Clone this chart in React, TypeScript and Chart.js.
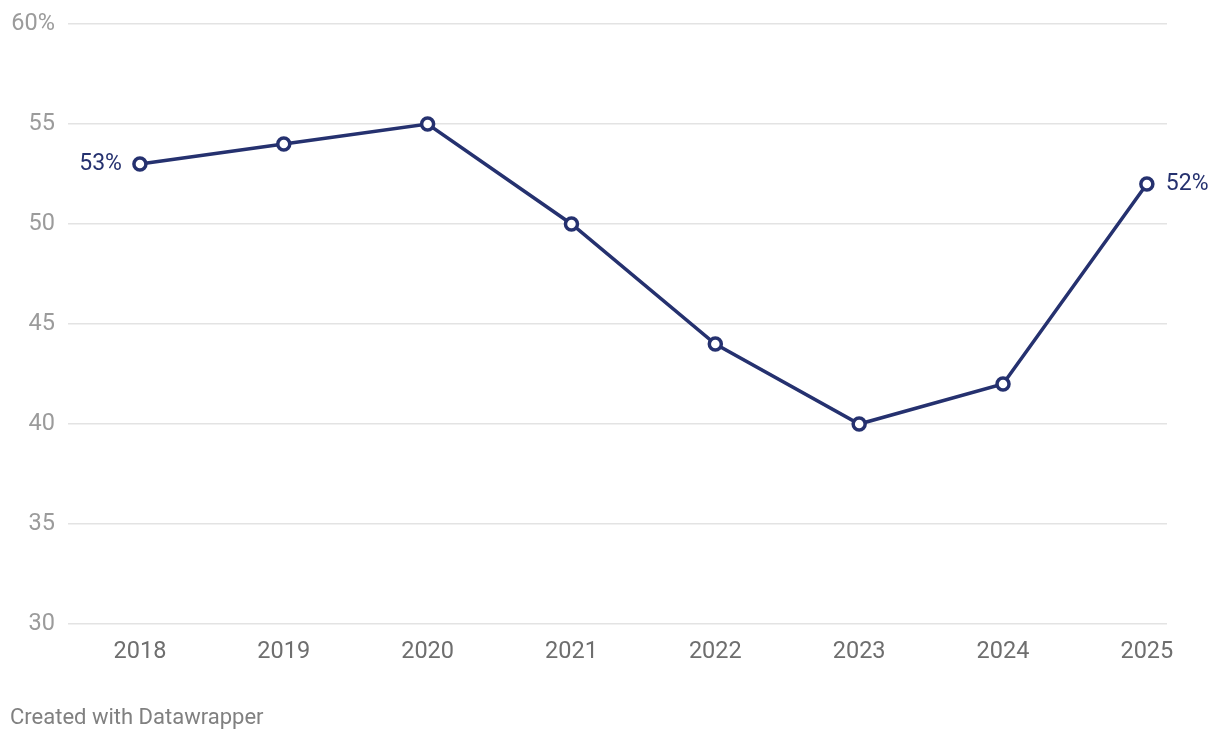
import React, { useEffect, useRef } from "react";
import { Chart, registerables } from "chart.js";

Chart.register(...registerables);

const years = [2018, 2019, 2020, 2021, 2022, 2023, 2024, 2025];
const values = [53, 54, 55, 50, 44, 40, 42, 52];
const yTicks = [30, 35, 40, 45, 50, 55, 60];
const footerText = "Created with Datawrapper";

const NAVY = "#25316f";
const FONT = "Roboto, 'Noto Sans', sans-serif";

const endLabels = {
  id: "endLabels",
  afterDatasetsDraw(chart: any) {
    const meta = chart.getDatasetMeta(0);
    const ctx = chart.ctx;
    ctx.save();
    ctx.font = `23px ${FONT}`;
    ctx.fillStyle = NAVY;
    ctx.textBaseline = "middle";
    const first = meta.data[0];
    const last = meta.data[meta.data.length - 1];
    ctx.textAlign = "right";
    ctx.fillText(values[0] + "%", first.x - 18, first.y);
    ctx.textAlign = "left";
    ctx.fillText(values[values.length - 1] + "%", last.x + 19, last.y);
    ctx.restore();
  },
};

export default function App() {
  const ref = useRef<HTMLCanvasElement>(null);
  useEffect(() => {
    if (!ref.current) return;
    const chart = new Chart(ref.current, {
      type: "line",
      data: {
        datasets: [
          {
            data: years.map((y, i) => ({ x: y, y: values[i] })),
            borderColor: NAVY,
            borderWidth: 3.5,
            pointRadius: 6,
            pointBorderWidth: 3.5,
            pointBackgroundColor: "#ffffff",
            pointBorderColor: NAVY,
            tension: 0,
          },
        ],
      },
      options: {
        animation: false,
        responsive: false,
        layout: { padding: { top: 24, right: 53, bottom: 0, left: 0 } },
        plugins: { legend: { display: false }, tooltip: { enabled: false } },
        scales: {
          x: {
            type: "linear",
            min: 2017.5,
            max: 2025.14,
            grid: { display: false },
            border: { display: false },
            afterBuildTicks: (s: any) => {
              s.ticks = years.map((v) => ({ value: v }));
            },
            afterFit: (s: any) => {
              s.height = 116;
              s.paddingLeft = 0;
              s.paddingRight = 0;
            },
            ticks: {
              color: "#6e6e6e",
              font: { family: FONT, size: 23.5 },
              padding: 6,
              maxRotation: 0,
              autoSkip: false,
              callback: (v: any) => String(v),
            },
          },
          y: {
            min: 30,
            max: 60,
            grid: { color: "#e3e3e3", lineWidth: 1.5, drawTicks: false },
            border: { display: false },
            afterBuildTicks: (s: any) => {
              s.ticks = yTicks.map((v) => ({ value: v }));
            },
            afterFit: (s: any) => {
              s.width = 68;
              s.paddingTop = 0;
              s.paddingBottom = 0;
            },
            ticks: {
              color: "#9b9b9b",
              font: { family: FONT, size: 23.5 },
              padding: 13,
              callback: (v: any) => (v === 60 ? v + "%" : String(v)),
            },
          },
        },
      },
      plugins: [endLabels],
    });
    return () => chart.destroy();
  }, []);
  return (
    <div style={{ position: "fixed", left: 0, top: 0, width: 1220, height: 740, background: "#fff" }}>
      <canvas ref={ref} width={1220} height={740} style={{ display: "block" }} />
      <div
        style={{
          position: "absolute",
          left: 10,
          top: 704,
          fontFamily: FONT,
          fontSize: 22,
          lineHeight: "26px",
          color: "#808080",
          whiteSpace: "nowrap",
        }}
      >
        {footerText}
      </div>
    </div>
  );
}
